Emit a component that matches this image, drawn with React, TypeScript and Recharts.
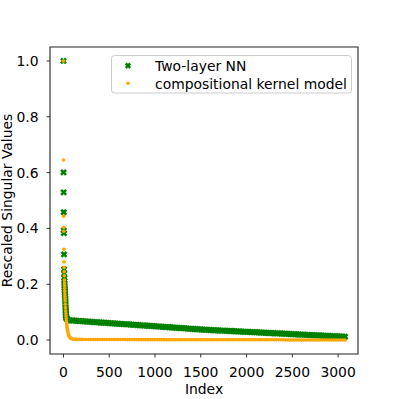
import React from 'react';
import { ScatterChart, Scatter, XAxis, YAxis, ReferenceArea } from 'recharts';

// singular values, sorted, rescaled so the largest is 1
const nnHeadIndex = [0, 1, 2, 3, 4, 5, 6, 7, 8, 9, 10, 11, 12, 13, 14, 15, 16, 17, 18, 19, 20, 21, 22, 23, 24, 25, 26, 27, 28, 30, 33, 36, 40, 45];
const nnHeadValue = [1.0, 0.601, 0.529, 0.458, 0.393, 0.383, 0.307, 0.253, 0.238, 0.222, 0.212, 0.203, 0.195, 0.188, 0.181, 0.175, 0.169, 0.163, 0.157, 0.15, 0.143, 0.135, 0.127, 0.119, 0.111, 0.104, 0.097, 0.091, 0.086, 0.082, 0.079, 0.077, 0.075, 0.073];

// tail, read every 25 indices
const tailStep = 25;
const nnTailStart = 50;
const nnTailValue = [
  0.071, 0.0704, 0.0699, 0.0693, 0.0687, 0.0682, 0.0676, 0.067, 0.0664, 0.0659,
  0.0653, 0.0647, 0.0642, 0.0636, 0.063, 0.0625, 0.0619, 0.0613, 0.0607, 0.0602,
  0.0596, 0.059, 0.0585, 0.0579, 0.0573, 0.0568, 0.0562, 0.0556, 0.055, 0.0545,
  0.0539, 0.0533, 0.0528, 0.0522, 0.0516, 0.0511, 0.0505, 0.0499, 0.0493, 0.0488,
  0.0482, 0.0476, 0.0471, 0.0465, 0.0459, 0.0454, 0.0448, 0.0442, 0.0436, 0.0431,
  0.0425, 0.0419, 0.0414, 0.0408, 0.0402, 0.0397, 0.0391, 0.0385, 0.0379, 0.0374,
  0.0368, 0.0364, 0.036, 0.0356, 0.0352, 0.0348, 0.0343, 0.0339, 0.0335, 0.0331,
  0.0327, 0.0323, 0.0319, 0.0315, 0.0311, 0.0307, 0.0302, 0.0298, 0.0294, 0.029,
  0.0286, 0.0282, 0.0278, 0.0274, 0.027, 0.0266, 0.0261, 0.0257, 0.0253, 0.0249,
  0.0245, 0.0241, 0.0237, 0.0233, 0.0229, 0.0225, 0.022, 0.0216, 0.0212, 0.0208,
  0.0204, 0.02, 0.0196, 0.0192, 0.0188, 0.0184, 0.0179, 0.0175, 0.0171, 0.0167,
  0.0163, 0.0159, 0.0155, 0.0151, 0.0147, 0.0143, 0.0138, 0.0134, 0.013, 0.0126,
  0.0122, 0.0119,
];

const kernelHeadIndex = [0, 1, 2, 3, 4, 5, 6, 7, 8, 9, 10, 11, 12, 13, 14, 15, 16, 17, 18, 20, 22, 24, 26, 28, 30, 32, 34, 36, 38, 40, 43, 46, 50, 55, 60, 65, 70, 75, 80, 90, 100, 110, 120, 130, 140];
const kernelHeadValue = [1.0, 0.645, 0.444, 0.403, 0.39, 0.325, 0.28, 0.26, 0.245, 0.23, 0.215, 0.205, 0.195, 0.185, 0.175, 0.165, 0.156, 0.148, 0.14, 0.128, 0.116, 0.105, 0.095, 0.086, 0.077, 0.069, 0.062, 0.055, 0.049, 0.044, 0.038, 0.032, 0.026, 0.02, 0.015, 0.012, 0.009, 0.0075, 0.006, 0.0045, 0.0035, 0.003, 0.0028, 0.0027, 0.0026];

const kernelTailStart = 150;
const kernelTailValue = [
  0.0025, 0.0024, 0.0023, 0.0022, 0.0022, 0.0021, 0.0021, 0.002, 0.002, 0.002,
  0.0019, 0.0019, 0.0019, 0.0018, 0.0018, 0.0018, 0.0018, 0.0017, 0.0017, 0.0017,
  0.0017, 0.0017, 0.0016, 0.0016, 0.0016, 0.0016, 0.0016, 0.0015, 0.0015, 0.0015,
  0.0015, 0.0015, 0.0015, 0.0014, 0.0014, 0.0014, 0.0014, 0.0014, 0.0014, 0.0013,
  0.0013, 0.0013, 0.0013, 0.0013, 0.0013, 0.0013, 0.0012, 0.0012, 0.0012, 0.0012,
  0.0012, 0.0012, 0.0012, 0.0012, 0.0011, 0.0011, 0.0011, 0.0011, 0.0011, 0.0011,
  0.0011, 0.0011, 0.0011, 0.001, 0.001, 0.001, 0.001, 0.001, 0.001, 0.001,
  0.001, 0.001, 0.001, 0.001, 0.001, 0.001, 0.001, 0.001, 0.001, 0.001,
  0.001, 0.001, 0.001, 0.001, 0.001, 0.001, 0.001, 0.001, 0.001, 0.001,
  0.001, 0.0004, 0.0003, 0.0003, 0.0003, 0.0003, 0.0003, 0.0002, 0.0002, 0.0002,
  0.0002, 0.0002, 0.0002, 0.0002, 0.0002, 0.0001, 0.0001, 0.0001, 0.0001, 0.0001,
  0.0001, 0.0001, 0.0001, 0.0001, 0.0, 0.0, 0.0, 0.0,
];

const xTicks = [0, 500, 1000, 1500, 2000, 2500, 3000];
const yTicks = [0, 0.2, 0.4, 0.6, 0.8, 1.0];

const seriesNames = ['Two-layer NN', 'compositional kernel model'];

const GREEN = '#008000';
const ORANGE = '#FFA500';
const FONT = '"DejaVu Sans", sans-serif';
const FS = 13.9;

const nnPoints = [
  ...nnHeadIndex.map((x, i) => ({ x, y: nnHeadValue[i] })),
  ...nnTailValue.map((y, k) => ({ x: nnTailStart + k * tailStep, y })),
];
const kernelPoints = [
  ...kernelHeadIndex.map((x, i) => ({ x, y: kernelHeadValue[i] })),
  ...kernelTailValue.map((y, k) => ({ x: kernelTailStart + k * tailStep, y })),
];

const XMark = ({ cx, cy, h = 2.5 }: any) => (
  <g>
    <line x1={cx - h} y1={cy - h} x2={cx + h} y2={cy + h} stroke={GREEN} strokeWidth={2.6} />
    <line x1={cx - h} y1={cy + h} x2={cx + h} y2={cy - h} stroke={GREEN} strokeWidth={2.6} />
  </g>
);

const Dot = ({ cx, cy }: any) => <circle cx={cx} cy={cy} r={1.8} fill={ORANGE} />;

const renderYLabel = (props: any) => {
  const vb = props.viewBox || { x: 0, y: 47, width: 50, height: 307 };
  const x = vb.x + 11.5;
  const y = vb.y + vb.height / 2;
  return (
    <text x={x} y={y} transform={`rotate(-90, ${x}, ${y})`} textAnchor="middle"
      fontFamily={FONT} fontSize={FS} fill="#000">
      Rescaled Singular Values
    </text>
  );
};

const LegendBox = () => (
  <svg width={399} height={399} style={{ position: 'absolute', left: 0, top: 0, pointerEvents: 'none' }}>
    <rect x={111.5} y={55.5} width={240} height={37.5} rx={3} ry={3}
      fill="rgba(255,255,255,0.8)" stroke="#cccccc" strokeWidth={1} />
    <XMark cx={128} cy={65.7} h={2.2} />
    <Dot cx={128} cy={83.3} />
    <text x={155} y={70.7} fontFamily={FONT} fontSize={FS} fill="#000">{seriesNames[0]}</text>
    <text x={155} y={89} fontFamily={FONT} fontSize={FS} fill="#000">{seriesNames[1]}</text>
  </svg>
);

export default function App() {
  return (
    <div style={{ position: 'absolute', left: 0, top: 0, width: 399, height: 399, background: '#fff' }}>
      <ScatterChart width={399} height={399} margin={{ top: 47, right: 41, bottom: 5, left: 0 }}
        style={{ fontFamily: FONT }}>
        <XAxis type="number" dataKey="x" domain={[-147, 3217]} ticks={xTicks} allowDataOverflow
          height={40} axisLine={false} tickSize={3.5} tickMargin={9.8}
          tickLine={{ stroke: '#000', strokeWidth: 0.8 }}
          tick={{ fill: '#000', fontSize: FS, fontFamily: FONT }}
          label={{ value: 'Index', position: 'insideBottom', offset: 0.5, fill: '#000', fontSize: FS, fontFamily: FONT }} />
        <YAxis type="number" dataKey="y" domain={[-0.05, 1.05]} ticks={yTicks} allowDataOverflow
          width={50} axisLine={false} tickSize={3.5} tickMargin={8}
          tickLine={{ stroke: '#000', strokeWidth: 0.8 }}
          tick={{ fill: '#000', fontSize: FS, fontFamily: FONT }}
          tickFormatter={(v: number) => v.toFixed(1)}
          label={{ content: renderYLabel }} />
        <Scatter name={seriesNames[0]} data={nnPoints} shape={(p: any) => <XMark cx={p.cx} cy={p.cy} />} isAnimationActive={false} />
        <Scatter name={seriesNames[1]} data={kernelPoints} shape={(p: any) => <Dot cx={p.cx} cy={p.cy} />} isAnimationActive={false} />
        <ReferenceArea x1={-147} x2={3217} y1={-0.05} y2={1.05} fill="none" stroke="#222" strokeWidth={1.1} ifOverflow="visible" />
      </ScatterChart>
      <LegendBox />
    </div>
  );
}
